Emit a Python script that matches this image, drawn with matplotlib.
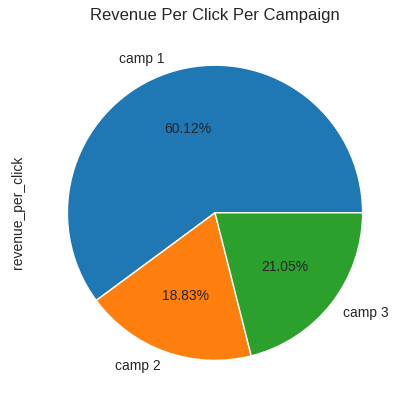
import matplotlib
matplotlib.use("Agg")
import matplotlib.pyplot as plt
import seaborn as sns
import pandas as pd

sns.set_style("whitegrid")
plt.rcParams['font.family'] = ['Liberation Sans', 'DejaVu Sans']

campaigns = ["camp 1", "camp 2", "camp 3"]
revenue_per_click = [60.12, 18.83, 21.05]

s = pd.Series(revenue_per_click, index=campaigns, name="revenue_per_click")

fig, ax = plt.subplots(figsize=(4.09, 4.09), dpi=100)
s.plot.pie(ax=ax, autopct="%.2f%%", colors=["#1f77b4", "#ff7f0e", "#2ca02c"])
ax.set_title("Revenue Per Click Per Campaign")
ax.set_position([19 / 409, 11.7 / 409, 392 / 409, 369 / 409])
fig.savefig("out.png", dpi=100)
